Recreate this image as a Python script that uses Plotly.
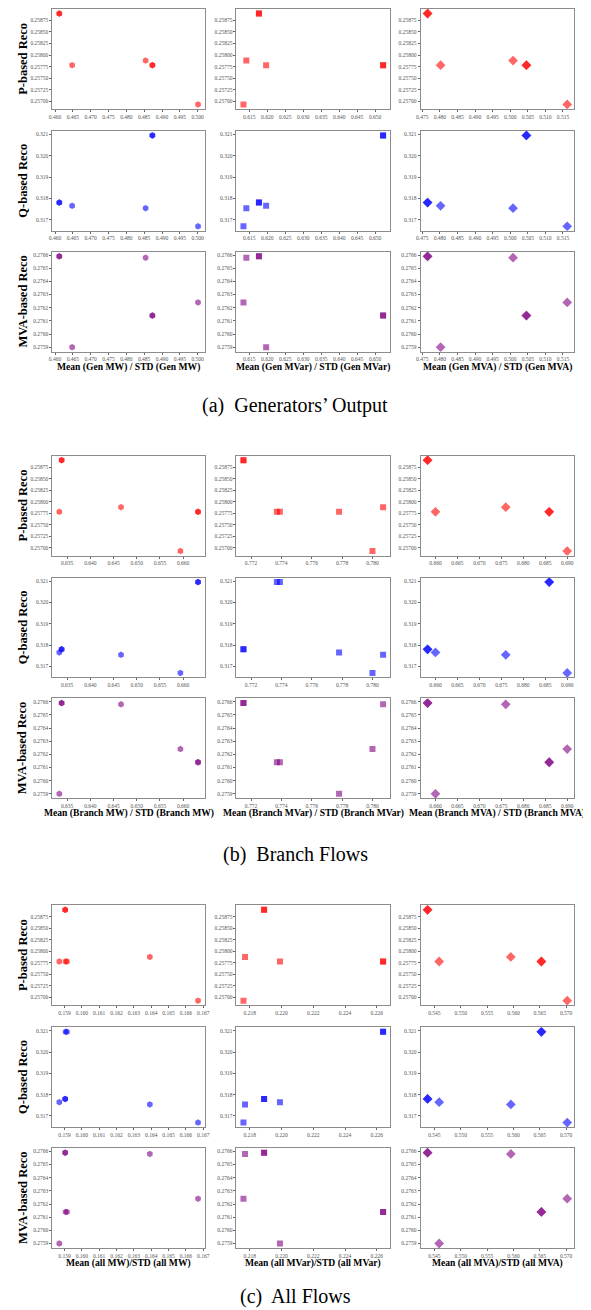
import plotly.graph_objects as go

# ---------------- data ----------------
# seven cases; cases 1/2 and 5/6 coincide (drawn as darker markers)
p_reco = [0.25890, 0.25890, 0.25778, 0.25788, 0.25778, 0.25778, 0.25693]
q_reco = [0.31780, 0.31780, 0.31765, 0.31754, 0.32095, 0.32095, 0.31669]
mva_reco = [0.27659, 0.27659, 0.27590, 0.27658, 0.27614, 0.27614, 0.27624]

gen_mw = [0.4612, 0.4612, 0.4648, 0.4854, 0.4873, 0.4873, 0.5001]
gen_mvar = [0.6177, 0.6177, 0.6197, 0.6142, 0.6522, 0.6522, 0.6134]
gen_mva = [0.4765, 0.4765, 0.4802, 0.5008, 0.5046, 0.5046, 0.5162]

branch_mw = [0.6338, 0.6338, 0.6333, 0.6466, 0.6632, 0.6632, 0.6594]
branch_mvar = [0.7715, 0.7715, 0.7778, 0.7807, 0.7737, 0.7739, 0.7800]
branch_mva = [0.6582, 0.6582, 0.6600, 0.6760, 0.6859, 0.6859, 0.6900]

all_mw = [0.15904, 0.15904, 0.15870, 0.16392, 0.15906, 0.15914, 0.16670]
all_mvar = [0.2189, 0.2189, 0.2199, 0.2177, 0.2264, 0.2264, 0.2176]
all_mva = [0.5437, 0.5437, 0.5459, 0.5595, 0.5653, 0.5653, 0.5702]

row_labels = ["P-based Reco", "Q-based Reco", "MVA-based Reco"]
row_values = [p_reco, q_reco, mva_reco]
row_colors = ["rgba(255,0,0,0.6)", "rgba(0,0,255,0.6)", "rgba(128,0,128,0.6)"]
row_dtick = [0.00025, 0.001, 0.0001]
row_fmt = [".5f", ".3f", ".4f"]

col_symbols = ["hexagon", "square", "diamond"]
col_sizes = [6.5, 6, 7.5]

groups = [
    dict(caption="(a)  Generators’ Output",
         xs=[gen_mw, gen_mvar, gen_mva],
         xtitles=["Mean (Gen MW) / STD (Gen MW)", "Mean (Gen MVar) / STD (Gen MVar)",
                  "Mean (Gen MVA) / STD (Gen MVA)"],
         xdtick=[0.005, 0.005, 0.005]),
    dict(caption="(b)  Branch Flows",
         xs=[branch_mw, branch_mvar, branch_mva],
         xtitles=["Mean (Branch MW) / STD (Branch MW)", "Mean (Branch MVar) / STD (Branch MVar)",
                  "Mean (Branch MVA) / STD (Branch MVA)"],
         xdtick=[0.005, 0.002, 0.005]),
    dict(caption="(c)  All Flows",
         xs=[all_mw, all_mvar, all_mva],
         xtitles=["Mean (all MW)/STD (all MW)", "Mean (all MVar)/STD (all MVar)",
                  "Mean (all MVA)/STD (all MVA)"],
         xdtick=[0.001, 0.002, 0.005]),
]

# ---------------- layout geometry (screen pixels) ----------------
SCREEN_W, SCREEN_H = 591, 1310
OFF = 8  # page body margin
W, H = SCREEN_W - OFF, SCREEN_H - OFF
group_tops = [8, 455, 905]
row_offsets = [0, 122, 243]
row_h = 100
col_frames = [(49, 204), (236, 392), (423, 579)]
xtitle_y = [366, 813, 1263]
caption_y = [405, 854, 1296]

FONT = "Liberation Serif"


def clamp(v):
    return min(1.0, max(0.0, v))


def px_x(v):
    return clamp((v - OFF) / W)


def px_y(v):
    return clamp(1 - (v - OFF) / H)


def padded(vals):
    lo, hi = min(vals), max(vals)
    m = (hi - lo) * 0.05
    return [lo - m, hi + m]


fig = go.Figure()
layout = dict(width=W, height=H, margin=dict(l=0, r=0, t=0, b=0),
              paper_bgcolor="white", plot_bgcolor="white", showlegend=False,
              font=dict(family=FONT))
annotations = []
n = 0
for gi, g in enumerate(groups):
    for ri in range(3):
        top = group_tops[gi] + row_offsets[ri]
        bot = top + row_h
        for ci in range(3):
            n += 1
            xa = "xaxis" if n == 1 else f"xaxis{n}"
            ya = "yaxis" if n == 1 else f"yaxis{n}"
            xr = "x" if n == 1 else f"x{n}"
            yr = "y" if n == 1 else f"y{n}"
            x0, x1 = col_frames[ci]
            xs = g["xs"][ci]
            ys = row_values[ri]
            for k in range(len(xs)):
                fig.add_trace(go.Scatter(
                    x=[xs[k]], y=[ys[k]], mode="markers", xaxis=xr, yaxis=yr,
                    marker=dict(symbol=col_symbols[ci], size=col_sizes[ci],
                                color=row_colors[ri], line=dict(width=0)),
                    hoverinfo="skip"))
            common = dict(showgrid=False, zeroline=False, showline=True, mirror=True,
                          linecolor="#8c8c8c", linewidth=1, ticks="outside", ticklen=2,
                          tickwidth=0.6, tickcolor="#666", tickangle=0,
                          tickfont=dict(family=FONT, size=5.5, color="#555"))
            layout[xa] = dict(common, domain=[px_x(x0), px_x(x1)], anchor=yr,
                              range=padded(xs), dtick=g["xdtick"][ci], tick0=0,
                              tickformat=".3f")
            layout[ya] = dict(common, domain=[px_y(bot), px_y(top)], anchor=xr,
                              range=padded(ys), dtick=row_dtick[ri], tick0=0,
                              tickformat=row_fmt[ri])
            if ci == 0:
                annotations.append(dict(
                    x=px_x(19), y=px_y((top + bot) / 2), xref="paper", yref="paper",
                    text=f"<b>{row_labels[ri]}</b>", textangle=-90, showarrow=False,
                    font=dict(family=FONT, size=12.5, color="black"),
                    xanchor="center", yanchor="middle"))
            if ri == 2:
                annotations.append(dict(
                    x=px_x((x0 + x1) / 2), y=px_y(xtitle_y[gi]), xref="paper", yref="paper",
                    text=f"<b>{g['xtitles'][ci]}</b>", showarrow=False,
                    font=dict(family=FONT, size=9.6, color="black"),
                    xanchor="center", yanchor="middle"))
    annotations.append(dict(
        x=px_x(295.5), y=px_y(caption_y[gi]), xref="paper", yref="paper",
        text=g["caption"], showarrow=False,
        font=dict(family=FONT, size=20, color="black"),
        xanchor="center", yanchor="middle"))

layout["annotations"] = annotations
fig.update_layout(**layout)
fig.write_html("out.html")
